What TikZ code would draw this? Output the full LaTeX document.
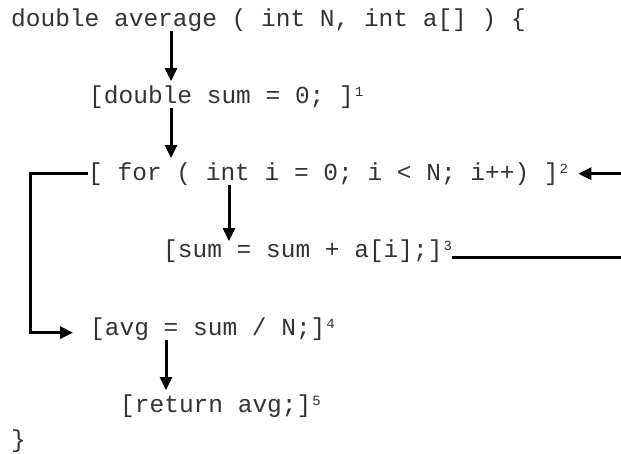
\documentclass[tikz,border=0pt]{standalone}
\usepackage{fontspec}
\setmonofont{Liberation Mono}
\usetikzlibrary{arrows.meta,calc,positioning}
\tikzset{
  code/.style={anchor=base west,inner sep=0pt,text=black!80,
    font=\ttfamily\fontsize{24.5}{24.5}\selectfont},
  flow/.style={line width=3pt,-{Triangle[length=13pt,width=12pt]}},
  edge/.style={line width=3pt}
}
\newcommand{\nr}[1]{\kern1pt\raisebox{7pt}{\fontsize{14}{14}\selectfont#1}}

\begin{document}
\begin{tikzpicture}[x=1pt,y=-1pt]
  \useasboundingbox (0,0) rectangle (621,453);
  \node[code] (sig)  at (11,26)  {double average ( int N, int a[] ) \{};
  \node[code] (init) at (89,103) {[double sum = 0; ]\nr{1}};
  \node[code] (loop) at (88,180) {[ for ( int i = 0; i < N; i++) ]\nr{2}};
  \node[code] (body) at (163,257) {[sum = sum + a[i];]\nr{3}};
  \node[code] (avg)  at (90,335) {[avg = sum / N;]\nr{4}};
  \node[code] (ret)  at (120,412) {[return avg;]\nr{5}};
  \node[code] (close) at (11,447) {\}};
  % right edge, where the back edge leaves the page
  \coordinate (rim) at (621,0);
  \draw[flow] (sig.south -| 171,0) -- ([yshift=4pt]init.north -| 171,0);
  \draw[flow] (init.south -| 171,0) -- ([yshift=4pt]loop.north -| 171,0);
  \draw[flow] (loop.south -| 229,0) -- ([yshift=-2pt]body.north -| 229,0);
  \draw[flow] (avg.south -| 166,0) -- ([yshift=4pt]ret.north -| 166,0);
  % exit of the loop
  \draw[flow] (loop.west) -- (loop.west -| 30,0) |- ([xshift=-17pt,yshift=-4pt]avg.west);
  % back edge
  \draw[edge] (body.base east) -- (body.base east -| rim);
  \draw[flow,shorten >=10pt] (loop.east -| rim) -- (loop.east);
\end{tikzpicture}
\end{document}
